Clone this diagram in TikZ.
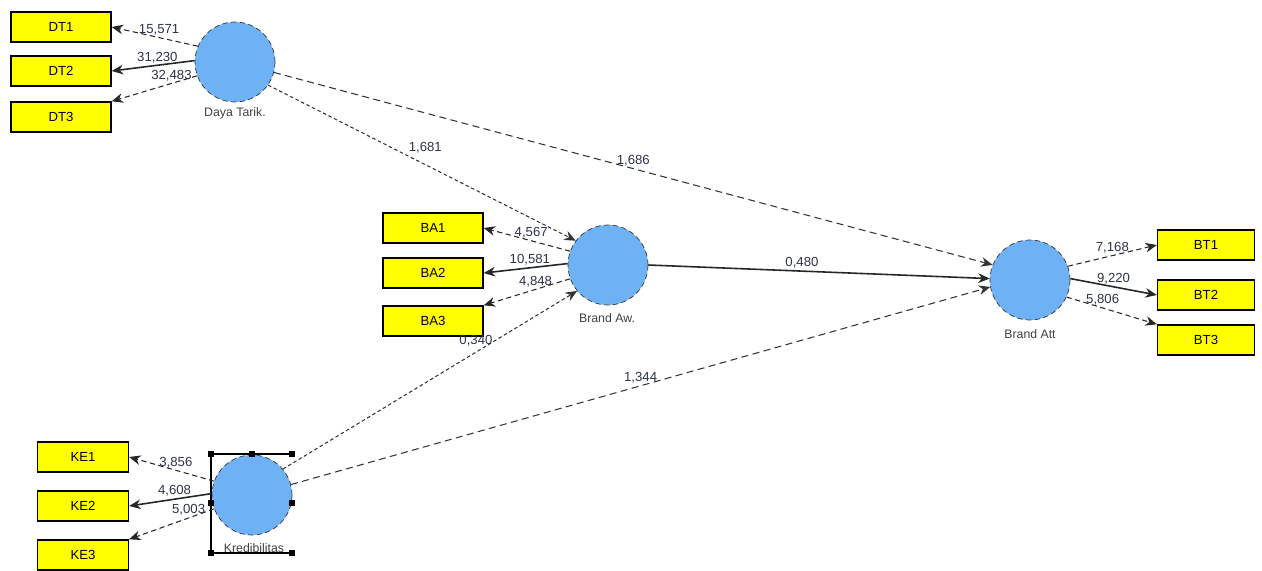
\documentclass[tikz,border=0pt]{standalone}
\usepackage{fontspec}
\setmainfont{Liberation Sans}
\usetikzlibrary{arrows.meta}
\definecolor{lvfill}{RGB}{110,178,245}
\definecolor{mvfill}{RGB}{255,255,0}
\definecolor{coefc}{RGB}{45,50,75}
\begin{document}
\begin{tikzpicture}[x=0.02cm,y=-0.02cm,>={Stealth[length=6.5pt,width=5.5pt]},line cap=butt,font=\fontsize{7.5}{9}\selectfont]
			\tikzset{lv/.style={circle,draw=black!80,densely dashed,fill=lvfill,minimum size=80*0.02cm,inner sep=0pt},
				mv/.style={rectangle,draw=black,thick,fill=mvfill,minimum width=100*0.02cm,minimum height=30*0.02cm,inner sep=0pt},
				lvname/.style={font=\fontsize{7}{8}\selectfont,text=black!75},
				ld/.style={->,draw=black!85,line width=0.6pt,dash pattern=on 3pt off 2pt},
				ls/.style={->,draw=black!85,line width=0.9pt},
				pth/.style={->,draw=black!80,line width=0.6pt,dash pattern=on 4pt off 2.5pt},
				coef/.style={font=\fontsize{7.5}{8}\selectfont,text=coefc,inner sep=1pt}
			}
			\useasboundingbox (0,0) rectangle (1262,571);
			% latent variables
			\node[lv] (dt) at (235,62) {};
			\node[lv] (ba) at (608,265) {};
			\node[lv] (bt) at (1030,280) {};
			\node[lv] (ke) at (252,495) {};
			\node[lvname] (dtname) at (235,113) {Daya Tarik.};
			\node[lvname] (baname) at (607,318) {Brand Aw.};
			\node[lvname] (btname) at (1030,334) {Brand Att};
			\node[lvname] (kename) at (254,548) {Kredibilitas};
			% indicators
			\node[mv] (dt1) at (61,27) {DT1};
			\node[mv] (dt2) at (61,71) {DT2};
			\node[mv] (dt3) at (61,117) {DT3};
			\node[mv] (ba1) at (433,228) {BA1};
			\node[mv] (ba2) at (433,273) {BA2};
			\node[mv] (ba3) at (433,321) {BA3};
			\node[mv,minimum width=97*0.02cm] (bt1) at (1206,245) {BT1};
			\node[mv,minimum width=97*0.02cm] (bt2) at (1206,295) {BT2};
			\node[mv,minimum width=97*0.02cm] (bt3) at (1206,340) {BT3};
			\node[mv,minimum width=91*0.02cm] (ke1) at (83,457) {KE1};
			\node[mv,minimum width=91*0.02cm] (ke2) at (83,506) {KE2};
			\node[mv,minimum width=91*0.02cm] (ke3) at (83,555) {KE3};
			% selection frame round Kredibilitas
			\coordinate (sa) at (211,454);
			\coordinate (sb) at (292,454);
			\coordinate (sc) at (211,553);
			\coordinate (sd) at (292,553);
			\draw[thick] (sc)--(sa)--(sb) (sc)--(sd);
			\foreach \p in {(211,454),(252,454),(292,454),(211,553),(292,553),(292,503),(211,503)}
				\fill \p ++(-3,-3) rectangle ++(6,6);
			% outer loadings
			\draw[ld] (dt.157) -- (dt1.east) node[coef,pos=0.45,above]{15,571};
			\draw[ls] (dt.178) -- (dt2.east) node[coef,pos=0.45,above]{31,230};
			\draw[ld] (dt.200) -- (dt3.north east) node[coef,pos=0.3,above]{32,483};
			\draw[ld] (ba.160) -- (ba1.east) node[coef,pos=0.45,above]{4,567};
			\draw[ls] (ba.178) -- (ba2.east) node[coef,pos=0.45,above]{10,581};
			\draw[ld] (ba.200) -- (ba3.north east) node[coef,pos=0.4,above]{4,848};
			\draw[ld] (bt.20) -- (bt1.west) node[coef,pos=0.5,above]{7,168};
			\draw[ls] (bt.2) -- (bt2.west) node[coef,pos=0.5,above]{9,220};
			\draw[ld] (bt.335) -- (bt3.north west) node[coef,pos=0.4,above]{5,806};
			\draw[ld] (ke.160) -- (ke1.east) node[coef,pos=0.45,above]{3,856};
			\draw[ls] (ke.178) -- (ke2.east) node[coef,pos=0.45,above]{4,608};
			\draw[ld] (ke.200) -- (ke3.north east) node[coef,pos=0.3,above]{5,003};
			% inner paths
			\draw[pth,dash pattern=on 2pt off 1.5pt] (dt.-35) -- (ba.143) node[coef,pos=0.45,above right]{1,681};
			\draw[pth] (dt.-15) -- (bt.158) node[coef,pos=0.5,above]{1,686};
			\draw[->,draw=black!85,line width=0.9pt] (ba.east) -- (bt.178) node[coef,pos=0.45,above]{0,480};
			\draw[pth,dash pattern=on 2pt off 1.5pt] (ke.40) -- (ba.220) node[coef,pos=0.72,left]{0,340};
			\draw[pth] (ke.15) -- (bt.190) node[coef,pos=0.5,above]{1,344};
		\end{tikzpicture}
\end{document}
